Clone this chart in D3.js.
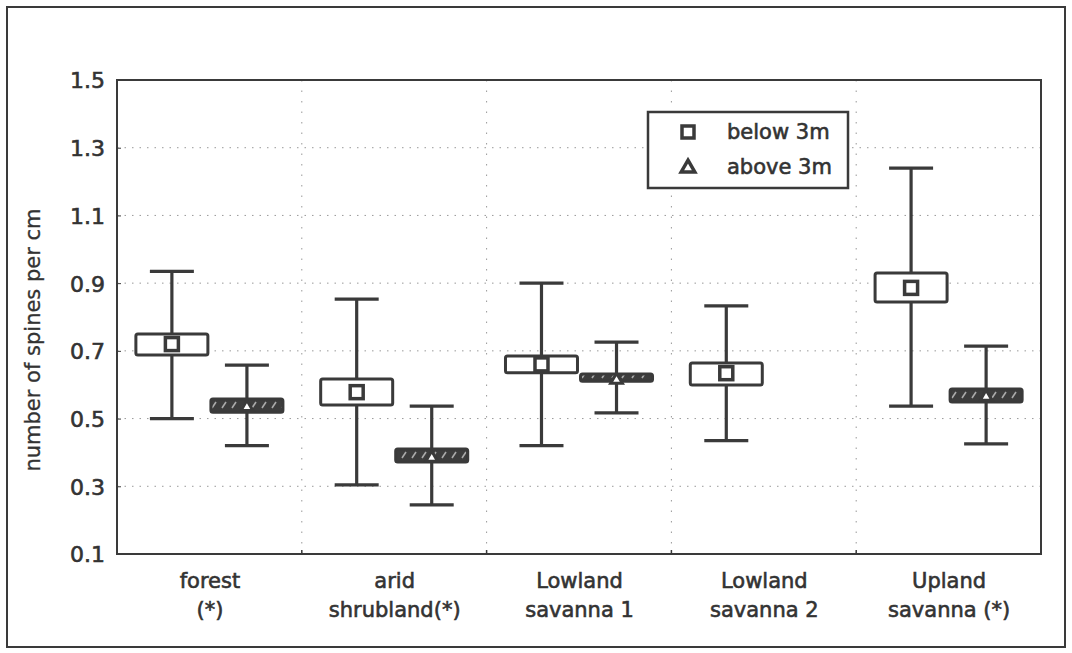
<!DOCTYPE html>
<html>
<head>
<meta charset="utf-8">
<script src="https://cdn.jsdelivr.net/npm/d3@7/dist/d3.min.js"></script>
<style>
  body { margin: 0; background: #fff; }
  text { font-family: "DejaVu Sans", "Liberation Sans", sans-serif; fill: #333; }
  .lbl { font-size: 21px; stroke: #333; stroke-width: 0.6px; }
</style>
</head>
<body>
<div id="chart"></div>
<script>
// categories (two text lines each)
var catLine1 = ["forest", "arid", "Lowland", "Lowland", "Upland"];
var catLine2 = ["(*)", "shrubland(*)", "savanna 1", "savanna 2", "savanna (*)"];
var yTicks = [0.1, 0.3, 0.5, 0.7, 0.9, 1.1, 1.3, 1.5];

// below 3m
var belowMean  = [0.72, 0.578, 0.66, 0.634, 0.886];
var belowBoxLo = [0.688, 0.54, 0.635, 0.599, 0.844];
var belowBoxHi = [0.75, 0.617, 0.685, 0.664, 0.93];
var belowMin   = [0.50, 0.304, 0.42, 0.435, 0.537];
var belowMax   = [0.935, 0.853, 0.90, 0.833, 1.24];

// above 3m (none for Lowland savanna 2)
var aboveMean  = [0.54, 0.39, 0.62, null, 0.57];
var aboveBoxLo = [0.519, 0.372, 0.61, null, 0.549];
var aboveBoxHi = [0.558, 0.41, 0.632, null, 0.587];
var aboveMin   = [0.42, 0.245, 0.517, null, 0.425];
var aboveMax   = [0.658, 0.537, 0.726, null, 0.714];

var width = 1072, height = 653;
var ink = "#3a3a3a";

var svg = d3.select("#chart").append("svg")
    .attr("width", width)
    .attr("height", height);

svg.append("rect").attr("width", width).attr("height", height).attr("fill", "#fff");

// outer frame
svg.append("rect")
    .attr("x", 7).attr("y", 7).attr("width", 1058).attr("height", 640)
    .attr("fill", "none").attr("stroke", ink).attr("stroke-width", 2);

var pos = d3.range(1, catLine1.length + 1);
var x = d3.scaleLinear().domain([0.5, 5.5]).range([117, 1041]);
var y = d3.scaleLinear().domain([0.1, 1.5]).range([554, 80]);
var vGrid = pos.slice(1).map(function(d) { return d - 0.5; });

var defs = svg.append("defs");
var pat = defs.append("pattern").attr("id", "hatch")
    .attr("patternUnits", "userSpaceOnUse").attr("width", 10).attr("height", 10);
pat.append("rect").attr("width", 10).attr("height", 10).attr("fill", "#3d3d3d");
pat.append("line").attr("x1", 2).attr("y1", 8).attr("x2", 6).attr("y2", 2)
    .attr("stroke", "#aaa").attr("stroke-width", 1.6);

// dotted grid
svg.append("g").selectAll("line")
  .data(yTicks.slice(1, -1)).enter().append("line")
    .attr("x1", x.range()[0]).attr("x2", x.range()[1])
    .attr("y1", function(d) { return y(d); })
    .attr("y2", function(d) { return y(d); })
    .attr("stroke", "#999").attr("stroke-width", 1)
    .attr("stroke-dasharray", "1.5,6");
svg.append("g").selectAll("line")
  .data(vGrid).enter().append("line")
    .attr("x1", function(d) { return x(d); })
    .attr("x2", function(d) { return x(d); })
    .attr("y1", 80).attr("y2", 554)
    .attr("stroke", "#999").attr("stroke-width", 1)
    .attr("stroke-dasharray", "1.5,9");

// y axis
var yAxis = svg.append("g").attr("transform", "translate(117,0)")
    .call(d3.axisLeft(y).tickValues(yTicks).tickSize(-4).tickPadding(12)
          .tickFormat(d3.format(".1f")));
yAxis.select(".domain").remove();
yAxis.selectAll("line").attr("stroke", ink);
yAxis.selectAll("text").attr("class", "lbl").attr("fill", "#333")
    .style("font-family", "DejaVu Sans").style("font-size", "22px").attr("dy", "0.36em");

// x axis (category labels)
var xAxis = svg.append("g").attr("transform", "translate(0,554)")
    .call(d3.axisBottom(x).tickValues(pos).tickSize(0).tickFormat(""));
xAxis.select(".domain").remove();
xAxis.selectAll(".tick").each(function(d, i) {
  var t = d3.select(this).append("text")
      .attr("class", "lbl")
      .attr("text-anchor", "middle")
      .style("font-family", "DejaVu Sans")
      .attr("fill", "#333");
  t.append("tspan").attr("x", 0).attr("y", 34).text(catLine1[i]);
  t.append("tspan").attr("x", 0).attr("y", 63).text(catLine2[i]);
});

// small ticks on the frame at the vertical grid lines
svg.append("g").selectAll("line")
  .data(vGrid).enter().append("line")
    .attr("x1", function(d) { return x(d); })
    .attr("x2", function(d) { return x(d); })
    .attr("y1", 554).attr("y2", 550)
    .attr("stroke", ink).attr("stroke-width", 1.5);

// y title
svg.append("text")
    .attr("transform", "translate(40,340) rotate(-90)")
    .attr("text-anchor", "middle")
    .style("font-size", "21px").style("stroke", "#333").style("stroke-width", "0.3px")
    .text("number of spines per cm");

// plot frame
svg.append("rect")
    .attr("x", x.range()[0]).attr("y", 80)
    .attr("width", x.range()[1] - x.range()[0]).attr("height", 474)
    .attr("fill", "none").attr("stroke", ink).attr("stroke-width", 2);

var off = 0.203, boxW = 72, capW = 44;
var plot = svg.append("g");

function drawSeries(mean, lo, hi, mn, mx, shift, fill) {
  var idx = d3.range(mean.length).filter(function(i) { return mean[i] != null; });
  var g = plot.append("g");
  var cx = function(i) { return x(pos[i] + shift); };
  g.selectAll(".whisker").data(idx).enter().append("line")
      .attr("x1", cx).attr("x2", cx)
      .attr("y1", function(i) { return y(mx[i]); })
      .attr("y2", function(i) { return y(mn[i]); })
      .attr("stroke", ink).attr("stroke-width", 3.2);
  [mx, mn].forEach(function(arr) {
    g.selectAll(null).data(idx).enter().append("line")
        .attr("x1", function(i) { return cx(i) - capW / 2; })
        .attr("x2", function(i) { return cx(i) + capW / 2; })
        .attr("y1", function(i) { return y(arr[i]); })
        .attr("y2", function(i) { return y(arr[i]); })
        .attr("stroke", ink).attr("stroke-width", 3.2);
  });
  g.selectAll(".box").data(idx).enter().append("rect")
      .attr("x", function(i) { return cx(i) - boxW / 2; })
      .attr("y", function(i) { return y(hi[i]); })
      .attr("width", boxW)
      .attr("height", function(i) { return y(lo[i]) - y(hi[i]); })
      .attr("rx", 2)
      .attr("fill", fill).attr("stroke", ink).attr("stroke-width", 3);
  return { g: g, idx: idx, cx: cx };
}

var b = drawSeries(belowMean, belowBoxLo, belowBoxHi, belowMin, belowMax, -off, "#fff");
b.g.selectAll(".mk").data(b.idx).enter().append("rect")
    .attr("x", function(i) { return b.cx(i) - 6.5; })
    .attr("y", function(i) { return y(belowMean[i]) - 6.5; })
    .attr("width", 13).attr("height", 13)
    .attr("fill", "#fff").attr("stroke", ink).attr("stroke-width", 3.5);

var a = drawSeries(aboveMean, aboveBoxLo, aboveBoxHi, aboveMin, aboveMax, off, "url(#hatch)");
var tri = d3.symbol().type(d3.symbolTriangle).size(60);
a.g.selectAll(".mk").data(a.idx).enter().append("path")
    .attr("d", tri)
    .attr("transform", function(i) { return "translate(" + a.cx(i) + "," + (y(aboveMean[i]) + 2) + ")"; })
    .attr("fill", "#fff").attr("stroke", ink).attr("stroke-width", 3);

// legend
var leg = svg.append("g");
leg.append("rect").attr("x", 648).attr("y", 112).attr("width", 200).attr("height", 76)
    .attr("fill", "#fff").attr("stroke", ink).attr("stroke-width", 2.5);
leg.append("rect").attr("x", 682).attr("y", 126).attr("width", 12).attr("height", 12)
    .attr("fill", "#fff").attr("stroke", ink).attr("stroke-width", 3.5);
leg.append("path").attr("d", d3.symbol().type(d3.symbolTriangle).size(80))
    .attr("transform", "translate(688,168)")
    .attr("fill", "#fff").attr("stroke", ink).attr("stroke-width", 3.5);
leg.append("text").attr("class", "lbl").attr("x", 727).attr("y", 139).text("below 3m");
leg.append("text").attr("class", "lbl").attr("x", 727).attr("y", 174).text("above 3m");
</script>
</body>
</html>
